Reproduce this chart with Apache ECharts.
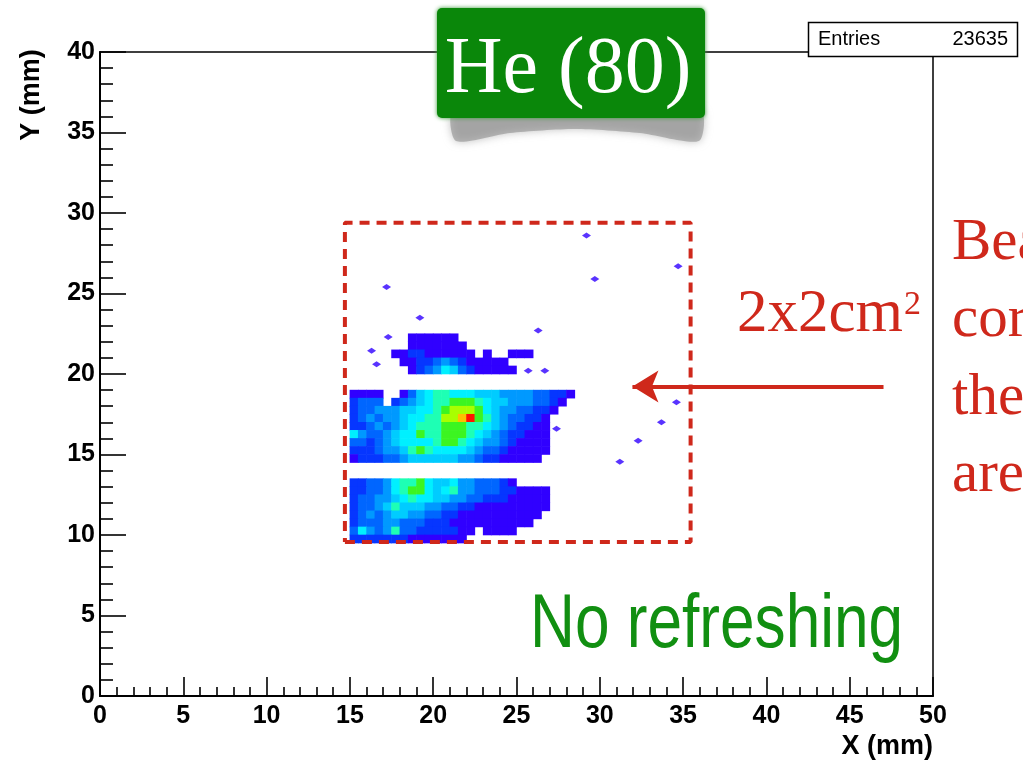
<!DOCTYPE html>
<html>
<head>
<meta charset="utf-8">
<script src="https://cdn.jsdelivr.net/npm/echarts@6/dist/echarts.min.js"></script>
<style>
  html, body { margin: 0; padding: 0; background: #fff; }
  #chart { width: 1023px; height: 765px; }
</style>
</head>
<body>
<div id="chart"></div>
<script>
// Beam-spot hit map, He (80), 0.5 mm bins. Each band lists rows from top to bottom,
// columns from left to right; the number is the contour level of that bin (0 = empty).
const BIN_MM = 0.5;

const upperBandX0 = 17.5;
const upperBandTop = 22.5;
const upperBandRows = [
  [0,0,1,1,1,1,1,1,0,0,0,0,0,0,0,0,0,0],
  [0,0,1,1,1,1,1,1,1,0,0,0,0,0,0,0,0,0],
  [1,1,2,2,1,1,1,1,1,1,0,1,0,0,1,1,1,0],
  [0,1,1,2,2,3,4,3,2,1,1,1,1,1,0,0,0,0],
  [0,0,1,2,3,4,6,5,3,2,1,1,1,1,1,0,0,0]
];

const middleBandX0 = 15.0;
const middleBandTop = 19.0;
const middleBandRows = [
  [1,1,1,1,0,0,1,3,5,6,7,7,6,6,6,5,5,5,4,4,4,4,3,3,2,2,1],
  [2,3,3,3,0,2,3,4,5,6,7,7,8,8,8,7,6,5,5,4,4,4,3,3,2,1,0],
  [2,3,3,4,4,4,5,5,6,6,7,8,9,9,9,8,6,5,4,4,3,3,2,2,1,0,0],
  [2,3,4,3,4,4,5,6,6,7,7,9,9,10,11,8,7,5,4,3,3,2,2,1,0,0,0],
  [2,2,3,4,3,4,5,6,7,7,7,8,8,8,7,7,6,5,4,3,2,2,1,1,0,0,0],
  [6,4,3,3,4,5,6,6,8,7,7,8,8,8,7,6,5,4,3,2,2,1,1,1,0,0,0],
  [3,3,2,3,4,5,6,6,6,6,7,8,8,7,6,5,4,4,3,2,1,1,1,1,0,0,0],
  [2,2,2,3,4,4,5,7,8,7,6,6,6,6,5,4,3,3,2,1,1,1,1,1,0,0,0],
  [1,2,2,2,3,3,4,5,5,5,5,5,5,4,4,3,2,2,1,1,1,1,1,0,0,0,0]
];

const lowerBandX0 = 15.0;
const lowerBandTop = 13.5;
const lowerBandRows = [
  [2,2,3,3,4,6,7,7,8,6,5,5,6,4,4,3,3,3,2,1,0,0,0,0],
  [2,2,3,3,4,6,7,8,8,6,5,6,7,4,4,3,3,3,2,2,1,1,1,1],
  [2,3,3,4,4,5,6,7,6,6,5,5,4,4,3,3,2,2,2,1,1,1,1,1],
  [2,3,3,4,5,7,5,5,5,4,4,3,3,2,2,1,1,1,1,1,1,1,1,1],
  [2,3,4,3,4,5,5,4,4,3,3,2,2,1,1,1,1,1,1,1,1,1,1,0],
  [2,3,3,3,4,4,3,3,3,2,2,2,1,1,1,1,1,1,1,1,1,1,0,0],
  [3,6,4,3,4,7,3,3,2,2,2,2,2,1,1,0,1,1,1,1,0,0,0,0],
  [2,2,2,2,2,2,2,1,1,1,1,1,1,1,0,0,0,0,0,0,0,0,0,0]
];

// Isolated single hits outside the main bands, [x mm, y mm]
const isolatedHits = [
  [17.3, 22.3], [16.3, 21.45], [16.6, 20.6], [19.2, 23.5], [17.2, 25.4],
  [26.3, 22.7], [25.7, 20.2], [26.7, 20.2], [27.4, 16.6],
  [29.2, 28.6], [29.7, 25.9], [34.7, 26.7],
  [34.6, 18.25], [33.7, 17.0], [32.3, 15.85], [31.2, 14.55]
];

// Marked 2x2 cm² region and the pointer to it, in mm
const regionCorners = [[14.7, 9.57], [35.45, 9.57], [35.45, 29.4], [14.7, 29.4], [14.7, 9.57]];
const pointerFrom = [47.03, 19.22];
const pointerTo = [31.96, 19.22];

const xTicks = { min: 0, max: 50, step: 5 };
const yTicks = { min: 0, max: 40, step: 5 };
const entries = 23635;

// Contour level colours (violet-blue up to red)
const LEVEL_COLORS = [
  null, '#3000ff', '#0636ff', '#0066ff', '#0099ff', '#00ccff',
  '#00f0ff', '#1effb4', '#3cf521', '#a8ff00', '#ffc000', '#ff1400'
];
const RED = '#cf281b';
const GREEN = '#118f11';
const AXIS_FONT = '"Liberation Sans", Arial, Helvetica, sans-serif';
const SERIF = '"Liberation Serif", "Times New Roman", serif';

function bandCells(rows, xStart, yTop) {
  const cells = [];
  rows.forEach((row, r) => {
    row.forEach((level, c) => {
      if (level > 0) cells.push([xStart + c * BIN_MM, yTop - (r + 1) * BIN_MM, level]);
    });
  });
  return cells;
}

const cellData = [].concat(
  bandCells(lowerBandRows, lowerBandX0, lowerBandTop),
  bandCells(middleBandRows, middleBandX0, middleBandTop),
  bandCells(upperBandRows, upperBandX0, upperBandTop)
);

const chart = echarts.init(document.getElementById('chart'), null, { renderer: 'canvas' });

function axisCommon(t, tickLen, minorLen, labelMargin) {
  return {
    type: 'value',
    min: t.min, max: t.max, interval: t.step,
    axisLine: { show: true, onZero: false, lineStyle: { color: '#000', width: 2 } },
    axisTick: { show: true, inside: true, length: tickLen, lineStyle: { color: '#000', width: 1.6 } },
    minorTick: { show: true, splitNumber: 5, length: minorLen, lineStyle: { color: '#000', width: 1.6 } },
    splitLine: { show: false },
    minorSplitLine: { show: false },
    axisLabel: {
      color: '#000', fontFamily: AXIS_FONT, fontWeight: 'bold', fontSize: 25, margin: labelMargin
    }
  };
}

const option = {
  backgroundColor: '#fff',
  animation: false,
  grid: {
    left: 100, right: 90, top: 52, bottom: 69,
    show: true, borderColor: '#000', borderWidth: 1.5, backgroundColor: 'transparent'
  },
  xAxis: axisCommon(xTicks, 19, 9, 8),
  yAxis: axisCommon(yTicks, 26, 13, 5),
  series: [
    {
      type: 'custom',
      name: 'hits',
      data: cellData,
      clip: true,
      silent: true,
      encode: { x: 0, y: 1 },
      renderItem: (params, api) => {
        const x0 = api.value(0), y0 = api.value(1), lvl = api.value(2);
        const a = api.coord([x0, y0 + BIN_MM]);
        const b = api.coord([x0 + BIN_MM, y0]);
        return {
          type: 'rect',
          shape: { x: a[0] - 0.3, y: a[1] - 0.3, width: b[0] - a[0] + 0.6, height: b[1] - a[1] + 0.6 },
          style: { fill: LEVEL_COLORS[lvl] }
        };
      }
    },
    {
      type: 'scatter',
      name: 'isolated',
      data: isolatedHits,
      symbol: 'diamond',
      symbolSize: [9, 6],
      silent: true,
      itemStyle: { color: LEVEL_COLORS[1] }
    },
    {
      type: 'line',
      name: 'region',
      data: regionCorners,
      symbol: 'none',
      silent: true,
      lineStyle: { color: RED, width: 4, type: [10, 7] },
      z: 5,
      markLine: {
        silent: true,
        symbol: ['none', 'arrow'],
        symbolSize: [24, 26],
        label: { show: false },
        lineStyle: { color: RED, width: 4, type: 'solid' },
        data: [[{ coord: pointerFrom }, { coord: pointerTo }]]
      }
    }
  ],
  graphic: [
    // axis titles
    {
      type: 'text', z: 100, x: 32, y: 95, rotation: Math.PI / 2,
      style: { text: 'Y (mm)', fill: '#000', font: 'bold 27px ' + AXIS_FONT, align: 'center', verticalAlign: 'middle' }
    },
    {
      type: 'text', z: 100, x: 933, y: 747,
      style: { text: 'X (mm)', fill: '#000', font: 'bold 27px ' + AXIS_FONT, align: 'right', verticalAlign: 'middle' }
    },
    // statistics box
    {
      type: 'rect', z: 100,
      shape: { x: 808.5, y: 22.5, width: 209, height: 34 },
      style: { fill: '#fff', stroke: '#000', lineWidth: 1.5 }
    },
    {
      type: 'text', z: 101, x: 818, y: 39,
      style: { text: 'Entries', fill: '#000', font: '20px ' + AXIS_FONT, align: 'left', verticalAlign: 'middle' }
    },
    {
      type: 'text', z: 101, x: 1008, y: 39,
      style: { text: String(entries), fill: '#000', font: '20px ' + AXIS_FONT, align: 'right', verticalAlign: 'middle' }
    },
    // title badge with curled shadow
    {
      type: 'polygon', z: 100,
      shape: {
        points: [[454, 110], [700, 110], [699, 141], [640, 133], [575, 129], [510, 133], [456, 141]],
        smooth: 0.25
      },
      style: { fill: '#8f8f8f', opacity: 0.6, shadowBlur: 8, shadowColor: '#999' }
    },
    {
      type: 'rect', z: 101,
      shape: { x: 437, y: 8, width: 268, height: 110, r: 5 },
      style: { fill: '#0a870a', shadowBlur: 4, shadowColor: '#3a9a3a' }
    },
    {
      type: 'text', z: 102, x: 568, y: 71,
      style: { text: 'He (80)', fill: '#fff', font: '80px ' + SERIF, align: 'center', verticalAlign: 'middle' }
    },
    // annotations
    {
      type: 'text', z: 100, x: 530, y: 626, scaleX: 0.818,
      style: {
        text: 'No refreshing', fill: GREEN,
        font: '76px ' + AXIS_FONT,
        align: 'left', verticalAlign: 'middle'
      }
    },
    {
      type: 'text', z: 100, x: 737, y: 315,
      style: { text: '2x2cm', fill: RED, font: '61px ' + SERIF, align: 'left', verticalAlign: 'middle' }
    },
    {
      type: 'text', z: 100, x: 904, y: 305,
      style: { text: '2', fill: RED, font: '34px ' + SERIF, align: 'left', verticalAlign: 'middle' }
    },
    {
      type: 'text', z: 100, x: 952, y: 243,
      style: { text: 'Beam', fill: RED, font: '59px ' + SERIF, align: 'left', verticalAlign: 'middle' }
    },
    {
      type: 'text', z: 100, x: 952, y: 320,
      style: { text: 'corresponds', fill: RED, font: '59px ' + SERIF, align: 'left', verticalAlign: 'middle' }
    },
    {
      type: 'text', z: 100, x: 952, y: 398,
      style: { text: 'the', fill: RED, font: '59px ' + SERIF, align: 'left', verticalAlign: 'middle' }
    },
    {
      type: 'text', z: 100, x: 952, y: 475,
      style: { text: 'area', fill: RED, font: '59px ' + SERIF, align: 'left', verticalAlign: 'middle' }
    }
  ]
};

chart.setOption(option);
</script>
</body>
</html>
